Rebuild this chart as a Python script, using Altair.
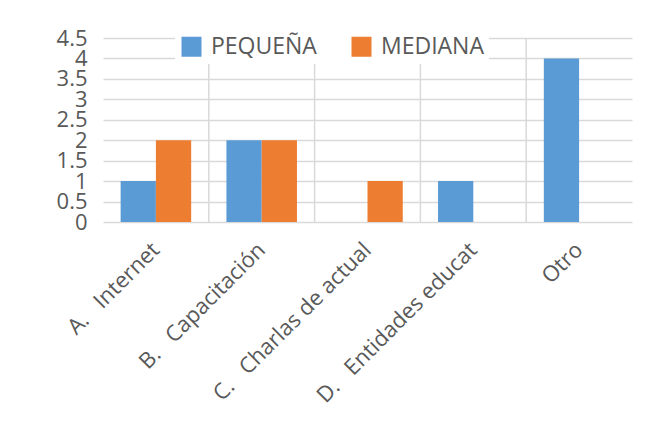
import altair as alt
import pandas as pd

categories = [
    "A.\u00a0\u00a0\u00a0Internet",
    "B.\u00a0\u00a0\u00a0Capacitación",
    "C.\u00a0\u00a0\u00a0Charlas de actual",
    "D.\u00a0\u00a0\u00a0Entidades educat",
    "Otro",
]
series = ["PEQUEÑA", "MEDIANA"]
pequena = [1, 2, 0, 1, 4]
mediana = [2, 2, 1, 0, 0]
y_ticks = [0, 0.5, 1, 1.5, 2, 2.5, 3, 3.5, 4, 4.5]

rows = []
for c, p, m in zip(categories, pequena, mediana):
    rows.append({"cat": c, "series": "PEQUEÑA", "value": p})
    rows.append({"cat": c, "series": "MEDIANA", "value": m})
df = pd.DataFrame(rows)
sep_df = pd.DataFrame({"cat": categories[1:]})

FONT = "Open Sans"
GRID = "#d9d9d9"
TEXT = "#595959"

x_axis = alt.Axis(
    title=None,
    labelAngle=-45,
    labelAlign="right",
    labelBaseline="middle",
    labelFontSize=22,
    labelFont=FONT,
    labelColor=TEXT,
    labelPadding=24,
    labelLimit=400,
    domain=False,
    ticks=False,
    grid=False,
)
x_scale = alt.Scale(paddingInner=0, paddingOuter=0)
y_axis = alt.Axis(
    title=None,
    values=y_ticks,
    format="~g",
    labelOverlap=False,
    domain=False,
    ticks=False,
    grid=True,
    labelFontSize=22,
    labelFont=FONT,
    labelColor=TEXT,
    labelPadding=16,
    gridColor=GRID,
    gridWidth=1.5,
)
y_scale = alt.Scale(domain=[0, 4.5], nice=False)

separators = alt.Chart(sep_df).mark_rule(color=GRID, strokeWidth=1.5).encode(
    x=alt.X("cat:N", sort=categories, scale=x_scale, axis=x_axis, bandPosition=0),
    y=alt.YDatum(0, scale=y_scale, axis=y_axis),
    y2=alt.Y2Datum(4.5),
)

bars = alt.Chart(df).mark_bar().encode(
    x=alt.X("cat:N", sort=categories, scale=x_scale, axis=x_axis),
    xOffset=alt.XOffset("series:N", sort=series, scale=alt.Scale(paddingInner=0, paddingOuter=0.5)),
    y=alt.Y("value:Q", scale=y_scale, axis=y_axis),
    color=alt.Color(
        "series:N",
        sort=series,
        scale=alt.Scale(domain=series, range=["#5B9BD5", "#ED7D31"]),
        legend=alt.Legend(
            title=None,
            orient="none",
            direction="horizontal",
            columns=2,
            legendX=72,
            legendY=-8,
            padding=5,
            fillColor="white",
            symbolType="square",
            symbolSize=400,
            symbolStrokeWidth=0,
            symbolOpacity=1,
            labelFontSize=23,
            labelFont=FONT,
            labelColor=TEXT,
            labelOffset=8,
            columnPadding=33,
            labelLimit=300,
        ),
    ),
)

chart = alt.layer(separators, bars).properties(
    width=529,
    height=184,
    background="white",
    autosize=alt.AutoSizeParams(type="none"),
    padding={"left": 95, "top": 30, "right": 14, "bottom": 200},
).configure_view(stroke="transparent", strokeWidth=0)

chart.save("out.html", embed_options={"renderer": "svg", "actions": False})
